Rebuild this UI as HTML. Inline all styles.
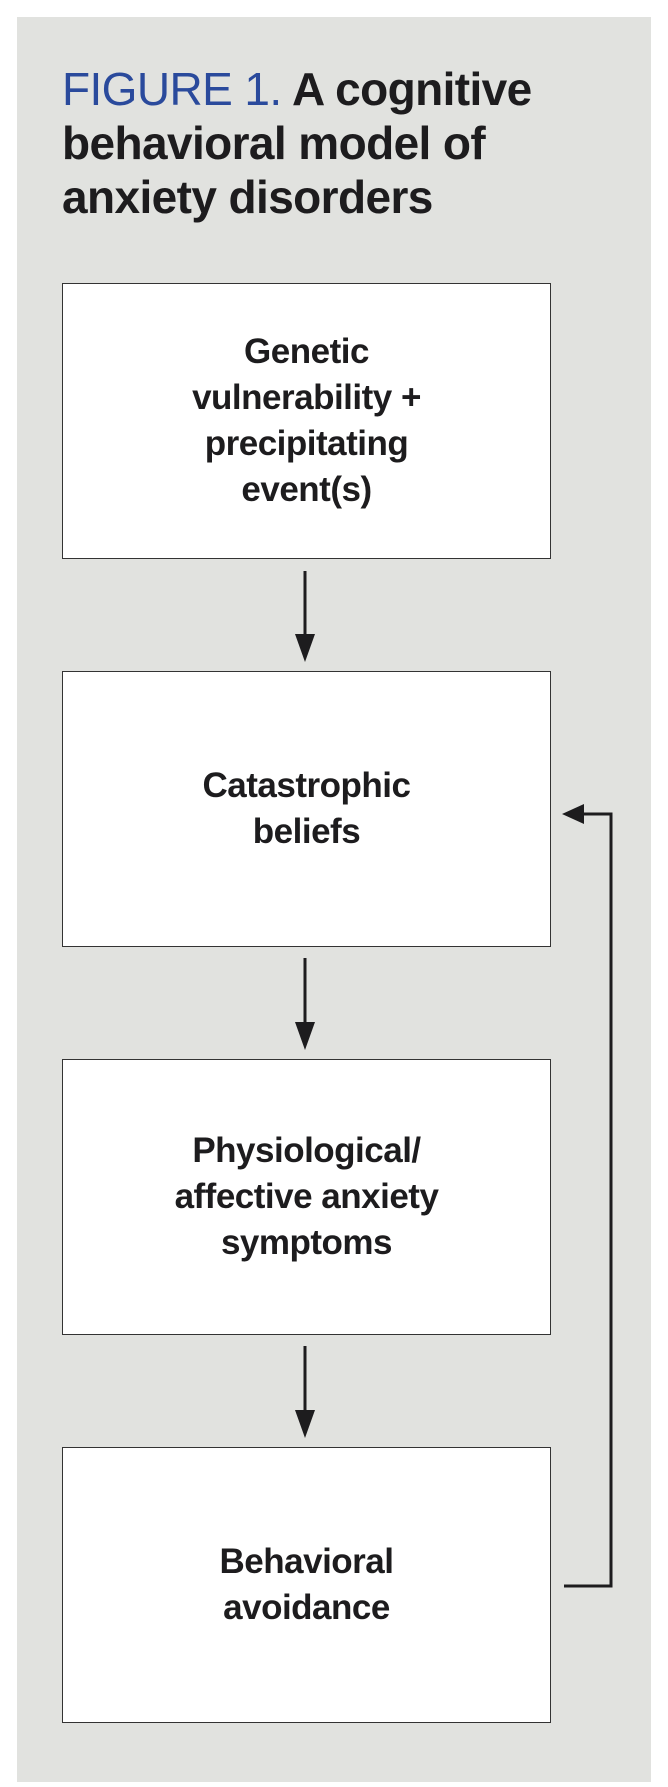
<!DOCTYPE html>
<html><head><meta charset="utf-8"><style>
html,body{margin:0;padding:0;background:#fff;}
body{width:668px;height:1787px;position:relative;overflow:hidden;font-family:"Liberation Sans",Arial,sans-serif;}
.panel{position:absolute;left:17px;top:17px;width:634px;height:1765px;background:#e1e2df;}
.title{position:absolute;left:62px;top:62px;font-size:46px;font-weight:bold;line-height:54px;color:#1d1c1e;letter-spacing:-0.6px;white-space:nowrap;}
.title span{color:#2a4a9c;font-weight:normal;}
.box{position:absolute;left:62px;width:487px;background:#fff;border:1.5px solid #333;display:flex;align-items:center;justify-content:center;text-align:center;font-weight:bold;font-size:35px;line-height:46px;color:#1d1c1e;letter-spacing:-0.5px;}
svg{position:absolute;left:0;top:0;}
</style></head><body>
<div class="panel"></div>
<div class="title"><span>FIGURE 1.</span> A cognitive<br>behavioral model of<br>anxiety disorders</div>
<div class="box" style="top:283px;height:274px;">Genetic<br>vulnerability +<br>precipitating<br>event(s)</div>
<div class="box" style="top:671px;height:274px;">Catastrophic<br>beliefs</div>
<div class="box" style="top:1059px;height:274px;">Physiological/<br>affective anxiety<br>symptoms</div>
<div class="box" style="top:1447px;height:274px;">Behavioral<br>avoidance</div>
<svg width="668" height="1787">
<g stroke="#1d1c1e" stroke-width="3" fill="none">
<line x1="305" y1="571" x2="305" y2="643"/>
<line x1="305" y1="958" x2="305" y2="1032"/>
<line x1="305" y1="1346" x2="305" y2="1420"/>
<polyline points="564,1586 611,1586 611,814 580,814"/>
</g>
<g fill="#1d1c1e">
<polygon points="295,634 315,634 305,662"/>
<polygon points="295,1022 315,1022 305,1050"/>
<polygon points="295,1410 315,1410 305,1438"/>
<polygon points="584,804 584,824 562,814"/>
</g>
</svg>
</body></html>
